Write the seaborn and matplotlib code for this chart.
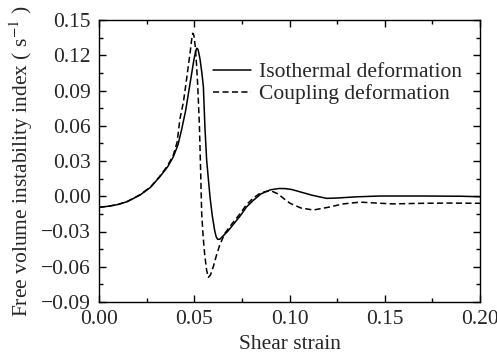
import numpy as np
import pandas as pd
import matplotlib
matplotlib.use("Agg")
import matplotlib.pyplot as plt
from matplotlib.ticker import MultipleLocator, FuncFormatter
import seaborn as sns

# --- data ---
iso_x = [0.000, 0.005, 0.010, 0.015, 0.0215, 0.027, 0.032, 0.036, 0.039, 0.0415,
         0.0434, 0.0455, 0.047, 0.0485, 0.0498, 0.0507, 0.0513, 0.052, 0.053, 0.054,
         0.0548, 0.0556, 0.0565, 0.0575, 0.0583, 0.0595, 0.0607, 0.0615, 0.0623, 0.0635,
         0.065, 0.0675, 0.070, 0.074, 0.0775, 0.081, 0.085, 0.090, 0.0945, 0.0976,
         0.101, 0.105, 0.112, 0.1195, 0.125, 0.135, 0.1475, 0.170, 0.190, 0.200]
iso_y = [-0.0094, -0.0085, -0.0070, -0.0045, 0.0010, 0.0075, 0.0167, 0.0250, 0.0335, 0.0440,
         0.0570, 0.0730, 0.0880, 0.1030, 0.1160, 0.1230, 0.1260, 0.1250, 0.1170, 0.1050,
         0.0930, 0.0590, 0.0310, 0.0130, -0.0010, -0.0170, -0.0290, -0.0345, -0.0367, -0.0365,
         -0.0340, -0.0300, -0.0250, -0.0170, -0.0090, -0.0035, 0.0020, 0.0055, 0.0066, 0.0065,
         0.0058, 0.0040, 0.0008, -0.0018, -0.0015, -0.0005, 0.0002, 0.0002, 0.0000, -0.0004]

cpl_x = [0.000, 0.005, 0.010, 0.015, 0.0215, 0.027, 0.032, 0.036, 0.039, 0.041,
         0.0425, 0.0443, 0.046, 0.0478, 0.0487, 0.0492, 0.0498, 0.0505, 0.0512, 0.0518,
         0.0522, 0.0527, 0.0533, 0.0539, 0.0547, 0.0555, 0.0565, 0.0574, 0.0585, 0.060,
         0.0617, 0.0635, 0.0661, 0.070, 0.074, 0.0775, 0.081, 0.0845, 0.088, 0.0905,
         0.094, 0.097, 0.1003, 0.106, 0.1125, 0.120, 0.1283, 0.137, 0.1423, 0.154,
         0.170, 0.185, 0.200]
cpl_y = [-0.0094, -0.0085, -0.0070, -0.0043, 0.0013, 0.0078, 0.0172, 0.0260, 0.0350, 0.0460,
         0.0660, 0.0800, 0.1000, 0.1220, 0.1340, 0.1387, 0.1370, 0.1280, 0.1120, 0.0950,
         0.0800, 0.0600, 0.0250, -0.0145, -0.0350, -0.0500, -0.0630, -0.0690, -0.0670, -0.0600,
         -0.0500, -0.0410, -0.0315, -0.0230, -0.0150, -0.0070, -0.0015, 0.0025, 0.0042, 0.0045,
         0.0020, -0.0020, -0.0060, -0.0100, -0.0117, -0.0095, -0.0065, -0.0050, -0.0055, -0.0065,
         -0.0060, -0.0058, -0.0060]

series_names = ["Isothermal deformation", "Coupling deformation"]
x_ticks = [0.00, 0.05, 0.10, 0.15, 0.20]
y_ticks = [-0.09, -0.06, -0.03, 0.00, 0.03, 0.06, 0.09, 0.12, 0.15]

df = pd.concat([
    pd.DataFrame({"x": iso_x, "y": iso_y, "series": series_names[0]}),
    pd.DataFrame({"x": cpl_x, "y": cpl_y, "series": series_names[1]}),
], ignore_index=True)

sns.set_style("ticks")
plt.rcParams["font.family"] = ["Liberation Serif", "DejaVu Serif"]
plt.rcParams["mathtext.fontset"] = "stix"

FS = 15.5

fig = plt.figure(figsize=(4.97, 3.59), dpi=100)
ax = fig.add_axes([99 / 497, 1 - 302 / 359, 381 / 497, 282 / 359])

sns.lineplot(data=df, x="x", y="y", hue="series", style="series",
             palette={series_names[0]: "black", series_names[1]: "black"},
             dashes={series_names[0]: "", series_names[1]: (4, 2.2)},
             estimator=None, sort=False, linewidth=1.1, ax=ax)

fmt = FuncFormatter(lambda v, p: ("%.2f" % v).replace("-", "\u2212") if abs(v) > 1e-9 else "0.00")

ax.set_xlim(0, 0.20)
ax.set_ylim(-0.09, 0.15)
ax.set_xticks(x_ticks)
ax.set_yticks(y_ticks)
ax.xaxis.set_minor_locator(MultipleLocator(0.025))
ax.yaxis.set_minor_locator(MultipleLocator(0.015))
ax.xaxis.set_major_formatter(fmt)
ax.yaxis.set_major_formatter(fmt)
ax.tick_params(which="both", direction="in", top=True, right=True,
               labeltop=False, labelright=False, color="black", width=1)
ax.tick_params(which="major", length=5, labelsize=FS)
ax.tick_params(axis="x", which="major", pad=6)
ax.tick_params(axis="y", which="major", pad=6)
ax.tick_params(which="minor", length=3)
for s in ax.spines.values():
    s.set_visible(True)
    s.set_linewidth(1.0)
    s.set_color("black")

ax.set_xlabel("Shear strain", fontsize=FS, labelpad=4)
ax.set_ylabel("Free volume instability index ( s$^{-1}$ )", fontsize=FS, labelpad=4)

handles, labels = ax.get_legend_handles_labels()
ax.legend(handles, labels, loc="upper left", bbox_to_anchor=(0.299, 0.85),
          frameon=False, fontsize=FS, handlelength=1.75, handletextpad=0.4,
          labelspacing=0.08, borderaxespad=0, borderpad=0)

fig.savefig("out.png", dpi=100)
